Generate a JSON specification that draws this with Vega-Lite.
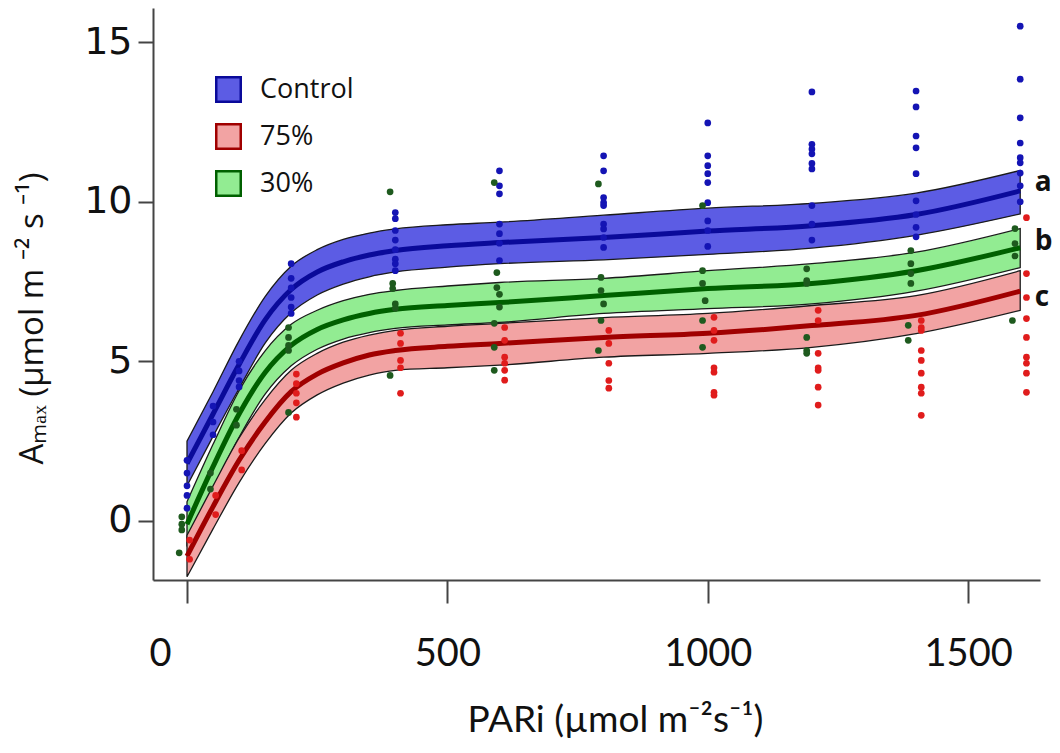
{
  "$schema": "https://vega.github.io/schema/vega-lite/v6.json",
  "width": 887,
  "height": 572,
  "autosize": {"type": "none"},
  "padding": {"left": 153, "top": 8, "right": 20, "bottom": 173},
  "background": "white",
  "config": {"view": {"stroke": null}},
  "datasets": {
    "curves": [
      {"g": "Control", "x": 0, "lo": 1.1, "mid": 1.8, "hi": 2.5},
      {"g": "Control", "x": 50, "lo": 2.65, "mid": 3.35, "hi": 4.05},
      {"g": "Control", "x": 100, "lo": 4.15, "mid": 4.9, "hi": 5.65},
      {"g": "Control", "x": 150, "lo": 5.57, "mid": 6.3, "hi": 7.03},
      {"g": "Control", "x": 200, "lo": 6.52, "mid": 7.25, "hi": 7.98},
      {"g": "Control", "x": 250, "lo": 7.08, "mid": 7.8, "hi": 8.5},
      {"g": "Control", "x": 300, "lo": 7.42, "mid": 8.12, "hi": 8.82},
      {"g": "Control", "x": 350, "lo": 7.65, "mid": 8.33, "hi": 9.02},
      {"g": "Control", "x": 400, "lo": 7.8, "mid": 8.47, "hi": 9.15},
      {"g": "Control", "x": 500, "lo": 7.95, "mid": 8.62, "hi": 9.28},
      {"g": "Control", "x": 600, "lo": 8.06, "mid": 8.72, "hi": 9.36},
      {"g": "Control", "x": 800, "lo": 8.18, "mid": 8.88, "hi": 9.58},
      {"g": "Control", "x": 1000, "lo": 8.35, "mid": 9.08, "hi": 9.8},
      {"g": "Control", "x": 1200, "lo": 8.55, "mid": 9.25, "hi": 9.95},
      {"g": "Control", "x": 1400, "lo": 8.95, "mid": 9.6, "hi": 10.27},
      {"g": "Control", "x": 1600, "lo": 9.62, "mid": 10.34, "hi": 10.98},
      {"g": "30%", "x": 0, "lo": -0.8, "mid": -0.1, "hi": 0.6},
      {"g": "30%", "x": 50, "lo": 1.0, "mid": 1.7, "hi": 2.4},
      {"g": "30%", "x": 100, "lo": 2.62, "mid": 3.35, "hi": 4.08},
      {"g": "30%", "x": 150, "lo": 3.97, "mid": 4.65, "hi": 5.33},
      {"g": "30%", "x": 200, "lo": 4.86, "mid": 5.5, "hi": 6.16},
      {"g": "30%", "x": 250, "lo": 5.38, "mid": 6.0, "hi": 6.6},
      {"g": "30%", "x": 300, "lo": 5.7, "mid": 6.3, "hi": 6.9},
      {"g": "30%", "x": 350, "lo": 5.9, "mid": 6.5, "hi": 7.1},
      {"g": "30%", "x": 400, "lo": 6.03, "mid": 6.63, "hi": 7.22},
      {"g": "30%", "x": 500, "lo": 6.14, "mid": 6.75, "hi": 7.36},
      {"g": "30%", "x": 600, "lo": 6.22, "mid": 6.84, "hi": 7.47},
      {"g": "30%", "x": 800, "lo": 6.5, "mid": 7.06, "hi": 7.6},
      {"g": "30%", "x": 1000, "lo": 6.65, "mid": 7.28, "hi": 7.84},
      {"g": "30%", "x": 1200, "lo": 6.8, "mid": 7.44, "hi": 8.06},
      {"g": "30%", "x": 1400, "lo": 7.2, "mid": 7.84, "hi": 8.42},
      {"g": "30%", "x": 1600, "lo": 7.94, "mid": 8.56, "hi": 9.16},
      {"g": "75%", "x": 0, "lo": -1.75, "mid": -1.1, "hi": -0.45},
      {"g": "75%", "x": 50, "lo": -0.25, "mid": 0.45, "hi": 1.1},
      {"g": "75%", "x": 100, "lo": 1.2, "mid": 1.9, "hi": 2.6},
      {"g": "75%", "x": 150, "lo": 2.42, "mid": 3.1, "hi": 3.8},
      {"g": "75%", "x": 200, "lo": 3.38, "mid": 4.05, "hi": 4.72},
      {"g": "75%", "x": 250, "lo": 3.95, "mid": 4.6, "hi": 5.25},
      {"g": "75%", "x": 300, "lo": 4.32, "mid": 4.95, "hi": 5.6},
      {"g": "75%", "x": 350, "lo": 4.57, "mid": 5.2, "hi": 5.82},
      {"g": "75%", "x": 400, "lo": 4.72, "mid": 5.34, "hi": 5.97},
      {"g": "75%", "x": 500, "lo": 4.8, "mid": 5.47, "hi": 6.1},
      {"g": "75%", "x": 600, "lo": 4.88, "mid": 5.56, "hi": 6.19},
      {"g": "75%", "x": 800, "lo": 5.13, "mid": 5.75, "hi": 6.37},
      {"g": "75%", "x": 1000, "lo": 5.25, "mid": 5.88, "hi": 6.5},
      {"g": "75%", "x": 1200, "lo": 5.44, "mid": 6.12, "hi": 6.75},
      {"g": "75%", "x": 1400, "lo": 5.87, "mid": 6.44, "hi": 7.06},
      {"g": "75%", "x": 1600, "lo": 6.6, "mid": 7.2, "hi": 7.84}
    ],
    "points": [
      {"g": "Control", "x": 0, "y": 1.9}, {"g": "Control", "x": 0, "y": 1.5}, {"g": "Control", "x": 0, "y": 1.1}, {"g": "Control", "x": 0, "y": 0.8}, {"g": "Control", "x": 0, "y": 0.4},
      {"g": "Control", "x": 50, "y": 3.6}, {"g": "Control", "x": 50, "y": 3.1}, {"g": "Control", "x": 50, "y": 2.7},
      {"g": "Control", "x": 100, "y": 5.0}, {"g": "Control", "x": 100, "y": 4.7}, {"g": "Control", "x": 100, "y": 4.4}, {"g": "Control", "x": 100, "y": 4.2},
      {"g": "Control", "x": 200, "y": 8.06}, {"g": "Control", "x": 200, "y": 7.6}, {"g": "Control", "x": 200, "y": 7.3}, {"g": "Control", "x": 200, "y": 7.0}, {"g": "Control", "x": 200, "y": 6.7}, {"g": "Control", "x": 200, "y": 6.5},
      {"g": "Control", "x": 400, "y": 9.66}, {"g": "Control", "x": 400, "y": 9.47}, {"g": "Control", "x": 400, "y": 9.1}, {"g": "Control", "x": 400, "y": 8.8}, {"g": "Control", "x": 400, "y": 8.5}, {"g": "Control", "x": 400, "y": 8.2}, {"g": "Control", "x": 400, "y": 8.06}, {"g": "Control", "x": 400, "y": 7.84},
      {"g": "Control", "x": 600, "y": 10.97}, {"g": "Control", "x": 600, "y": 10.5}, {"g": "Control", "x": 600, "y": 10.25}, {"g": "Control", "x": 600, "y": 9.3}, {"g": "Control", "x": 600, "y": 9.0}, {"g": "Control", "x": 600, "y": 8.7}, {"g": "Control", "x": 600, "y": 8.16},
      {"g": "Control", "x": 800, "y": 11.44}, {"g": "Control", "x": 800, "y": 10.97}, {"g": "Control", "x": 800, "y": 10.13}, {"g": "Control", "x": 800, "y": 9.97}, {"g": "Control", "x": 800, "y": 9.88}, {"g": "Control", "x": 800, "y": 9.3}, {"g": "Control", "x": 800, "y": 9.15}, {"g": "Control", "x": 800, "y": 8.88}, {"g": "Control", "x": 800, "y": 8.57},
      {"g": "Control", "x": 1000, "y": 12.47}, {"g": "Control", "x": 1000, "y": 11.44}, {"g": "Control", "x": 1000, "y": 11.13}, {"g": "Control", "x": 1000, "y": 10.88}, {"g": "Control", "x": 1000, "y": 10.6}, {"g": "Control", "x": 1000, "y": 9.97}, {"g": "Control", "x": 1000, "y": 9.4}, {"g": "Control", "x": 1000, "y": 9.1}, {"g": "Control", "x": 1000, "y": 8.6},
      {"g": "Control", "x": 1200, "y": 13.44}, {"g": "Control", "x": 1200, "y": 11.8}, {"g": "Control", "x": 1200, "y": 11.65}, {"g": "Control", "x": 1200, "y": 11.5}, {"g": "Control", "x": 1200, "y": 11.2}, {"g": "Control", "x": 1200, "y": 11.03}, {"g": "Control", "x": 1200, "y": 9.88}, {"g": "Control", "x": 1200, "y": 9.3}, {"g": "Control", "x": 1200, "y": 8.8},
      {"g": "Control", "x": 1400, "y": 13.47}, {"g": "Control", "x": 1400, "y": 12.97}, {"g": "Control", "x": 1400, "y": 12.06}, {"g": "Control", "x": 1400, "y": 11.69}, {"g": "Control", "x": 1400, "y": 10.88}, {"g": "Control", "x": 1400, "y": 10.03}, {"g": "Control", "x": 1400, "y": 9.6}, {"g": "Control", "x": 1400, "y": 9.2}, {"g": "Control", "x": 1400, "y": 8.9},
      {"g": "Control", "x": 1600, "y": 15.5}, {"g": "Control", "x": 1600, "y": 13.84}, {"g": "Control", "x": 1600, "y": 12.63}, {"g": "Control", "x": 1600, "y": 11.84}, {"g": "Control", "x": 1600, "y": 11.38}, {"g": "Control", "x": 1600, "y": 11.22}, {"g": "Control", "x": 1600, "y": 10.9}, {"g": "Control", "x": 1600, "y": 10.5}, {"g": "Control", "x": 1600, "y": 10.0},
      {"g": "30%", "x": -10, "y": 0.13}, {"g": "30%", "x": -10, "y": -0.1}, {"g": "30%", "x": -10, "y": -0.28}, {"g": "30%", "x": -15, "y": -1.0},
      {"g": "30%", "x": 45, "y": 1.5}, {"g": "30%", "x": 45, "y": 1.0},
      {"g": "30%", "x": 95, "y": 3.5}, {"g": "30%", "x": 95, "y": 3.0},
      {"g": "30%", "x": 195, "y": 6.06}, {"g": "30%", "x": 195, "y": 5.75}, {"g": "30%", "x": 195, "y": 5.5}, {"g": "30%", "x": 195, "y": 5.34}, {"g": "30%", "x": 195, "y": 3.4},
      {"g": "30%", "x": 390, "y": 10.31}, {"g": "30%", "x": 395, "y": 7.44}, {"g": "30%", "x": 395, "y": 7.28}, {"g": "30%", "x": 400, "y": 6.8}, {"g": "30%", "x": 400, "y": 6.66}, {"g": "30%", "x": 390, "y": 4.56},
      {"g": "30%", "x": 590, "y": 10.6}, {"g": "30%", "x": 595, "y": 7.78}, {"g": "30%", "x": 595, "y": 7.31}, {"g": "30%", "x": 600, "y": 7.1}, {"g": "30%", "x": 600, "y": 6.7}, {"g": "30%", "x": 590, "y": 6.19}, {"g": "30%", "x": 590, "y": 5.44}, {"g": "30%", "x": 590, "y": 4.72},
      {"g": "30%", "x": 790, "y": 10.56}, {"g": "30%", "x": 795, "y": 7.63}, {"g": "30%", "x": 795, "y": 7.22}, {"g": "30%", "x": 800, "y": 6.8}, {"g": "30%", "x": 795, "y": 6.28}, {"g": "30%", "x": 790, "y": 5.34},
      {"g": "30%", "x": 990, "y": 9.88}, {"g": "30%", "x": 990, "y": 7.84}, {"g": "30%", "x": 990, "y": 7.44}, {"g": "30%", "x": 995, "y": 6.9}, {"g": "30%", "x": 990, "y": 6.28}, {"g": "30%", "x": 990, "y": 5.44},
      {"g": "30%", "x": 1190, "y": 7.9}, {"g": "30%", "x": 1190, "y": 7.53}, {"g": "30%", "x": 1190, "y": 7.44}, {"g": "30%", "x": 1190, "y": 5.75}, {"g": "30%", "x": 1190, "y": 5.34}, {"g": "30%", "x": 1190, "y": 5.25},
      {"g": "30%", "x": 1390, "y": 8.47}, {"g": "30%", "x": 1390, "y": 8.06}, {"g": "30%", "x": 1390, "y": 7.75}, {"g": "30%", "x": 1390, "y": 7.44}, {"g": "30%", "x": 1385, "y": 6.13}, {"g": "30%", "x": 1385, "y": 5.66},
      {"g": "30%", "x": 1590, "y": 9.16}, {"g": "30%", "x": 1590, "y": 8.69}, {"g": "30%", "x": 1590, "y": 8.3}, {"g": "30%", "x": 1585, "y": 6.28},
      {"g": "75%", "x": 5, "y": -0.6}, {"g": "75%", "x": 5, "y": -1.2},
      {"g": "75%", "x": 55, "y": 0.8}, {"g": "75%", "x": 55, "y": 0.2},
      {"g": "75%", "x": 105, "y": 2.2}, {"g": "75%", "x": 105, "y": 1.6},
      {"g": "75%", "x": 210, "y": 4.6}, {"g": "75%", "x": 210, "y": 4.3}, {"g": "75%", "x": 210, "y": 4.0}, {"g": "75%", "x": 210, "y": 3.7}, {"g": "75%", "x": 210, "y": 3.25},
      {"g": "75%", "x": 410, "y": 5.88}, {"g": "75%", "x": 410, "y": 5.56}, {"g": "75%", "x": 410, "y": 5.03}, {"g": "75%", "x": 410, "y": 4.8}, {"g": "75%", "x": 410, "y": 4.0},
      {"g": "75%", "x": 610, "y": 6.06}, {"g": "75%", "x": 610, "y": 5.66}, {"g": "75%", "x": 610, "y": 5.13}, {"g": "75%", "x": 610, "y": 4.94}, {"g": "75%", "x": 610, "y": 4.72}, {"g": "75%", "x": 610, "y": 4.41},
      {"g": "75%", "x": 810, "y": 5.97}, {"g": "75%", "x": 810, "y": 5.56}, {"g": "75%", "x": 810, "y": 4.94}, {"g": "75%", "x": 810, "y": 4.4}, {"g": "75%", "x": 810, "y": 4.16},
      {"g": "75%", "x": 1012, "y": 6.38}, {"g": "75%", "x": 1012, "y": 5.97}, {"g": "75%", "x": 1012, "y": 5.66}, {"g": "75%", "x": 1012, "y": 4.8}, {"g": "75%", "x": 1012, "y": 4.66}, {"g": "75%", "x": 1012, "y": 4.03}, {"g": "75%", "x": 1012, "y": 3.94},
      {"g": "75%", "x": 1212, "y": 6.6}, {"g": "75%", "x": 1212, "y": 6.28}, {"g": "75%", "x": 1212, "y": 5.25}, {"g": "75%", "x": 1212, "y": 4.8}, {"g": "75%", "x": 1212, "y": 4.72}, {"g": "75%", "x": 1212, "y": 4.19}, {"g": "75%", "x": 1212, "y": 3.63},
      {"g": "75%", "x": 1410, "y": 6.28}, {"g": "75%", "x": 1410, "y": 6.06}, {"g": "75%", "x": 1410, "y": 5.97}, {"g": "75%", "x": 1410, "y": 5.34}, {"g": "75%", "x": 1410, "y": 5.03}, {"g": "75%", "x": 1410, "y": 4.63}, {"g": "75%", "x": 1410, "y": 4.19}, {"g": "75%", "x": 1410, "y": 4.0}, {"g": "75%", "x": 1410, "y": 3.31},
      {"g": "75%", "x": 1612, "y": 9.5}, {"g": "75%", "x": 1612, "y": 7.75}, {"g": "75%", "x": 1612, "y": 7.0}, {"g": "75%", "x": 1612, "y": 6.34}, {"g": "75%", "x": 1612, "y": 5.75}, {"g": "75%", "x": 1612, "y": 5.13}, {"g": "75%", "x": 1612, "y": 4.94}, {"g": "75%", "x": 1612, "y": 4.63}, {"g": "75%", "x": 1612, "y": 4.03}
    ],
    "letters": [
      {"label": "a", "x": 1628, "y": 10.6},
      {"label": "b", "x": 1628, "y": 8.75},
      {"label": "c", "x": 1628, "y": 7.0}
    ]
  },
  "encoding": {
    "x": {
      "type": "quantitative",
      "scale": {"domain": [-65.3, 1638], "nice": false, "zero": false},
      "axis": {
        "title": "PARi (µmol m⁻²s⁻¹)",
        "values": [0, 500, 1000, 1500],
        "format": "d",
        "grid": false,
        "domainColor": "#444", "domainWidth": 2,
        "tickColor": "#444", "tickWidth": 2, "tickSize": 23,
        "labelFont": "Lato", "labelFontSize": 38, "labelColor": "#111",
        "labelPadding": 32, "labelFlush": false,
        "labelOffset": {"condition": {"test": "datum.value === 0", "value": -27}, "value": 0},
        "titleFont": "Lato", "titleFontSize": 37, "titleFontWeight": "normal", "titleColor": "#111",
        "titleX": 462, "titleY": 140, "titleBaseline": "middle"
      }
    },
    "y": {
      "type": "quantitative",
      "scale": {"domain": [-1.85, 16.07], "nice": false, "zero": false},
      "axis": {
        "title": "Aₘₐₓ (µmol m ⁻² s ⁻¹)",
        "values": [0, 5, 10, 15],
        "grid": false,
        "domainColor": "#444", "domainWidth": 2,
        "tickColor": "#444", "tickWidth": 2, "tickSize": 15,
        "labelFont": "DejaVu Sans", "labelFontSize": 38, "labelColor": "#111",
        "labelPadding": 6, "labelFlush": false,
        "titleFont": "Open Sans", "titleFontSize": 33, "titleFontWeight": "normal", "titleColor": "#111",
        "titleY": 310, "titlePadding": 34
      }
    }
  },
  "layer": [
    {
      "data": {"name": "curves"},
      "mark": {"type": "area", "interpolate": "monotone", "stroke": "#1a1a1a", "strokeWidth": 1.3, "fillOpacity": 1},
      "encoding": {
        "x": {"field": "x", "type": "quantitative"},
        "y": {"field": "lo", "type": "quantitative"},
        "y2": {"field": "hi"},
        "fill": {
          "field": "g", "type": "nominal",
          "scale": {"domain": ["Control", "75%", "30%"], "range": ["#5c5ce4", "#f2a3a3", "#92ec92"]},
          "legend": {
            "title": null, "orient": "none", "legendX": 62, "legendY": 68,
            "symbolType": "square", "symbolSize": 600, "symbolStrokeWidth": 2.5, "symbolOpacity": 1,
            "labelFont": "Open Sans", "labelFontSize": 27, "labelColor": "#111", "labelOffset": 18,
            "rowPadding": 12
          }
        }
      }
    },
    {
      "data": {"name": "curves"},
      "mark": {"type": "line", "interpolate": "monotone", "strokeWidth": 5},
      "encoding": {
        "x": {"field": "x", "type": "quantitative"},
        "y": {"field": "mid", "type": "quantitative"},
        "stroke": {
          "field": "g", "type": "nominal",
          "scale": {"domain": ["Control", "75%", "30%"], "range": ["#0a0a9a", "#a00000", "#006000"]},
          "legend": {
            "title": null, "orient": "none", "legendX": 62, "legendY": 68,
            "symbolType": "square", "symbolSize": 600, "symbolStrokeWidth": 2.5, "symbolOpacity": 1,
            "labelFont": "Open Sans", "labelFontSize": 27, "labelColor": "#111", "labelOffset": 18,
            "rowPadding": 12
          }
        }
      }
    },
    {
      "data": {"name": "points"},
      "mark": {"type": "point", "filled": true, "size": 45, "opacity": 1},
      "encoding": {
        "x": {"field": "x", "type": "quantitative"},
        "y": {"field": "y", "type": "quantitative"},
        "color": {
          "field": "g", "type": "nominal",
          "scale": {"domain": ["Control", "75%", "30%"], "range": ["#1414b4", "#e01c1c", "#1e5a1e"]},
          "legend": null
        }
      }
    },
    {
      "data": {"name": "letters"},
      "mark": {"type": "text", "align": "left", "baseline": "middle", "font": "Open Sans", "fontSize": 28, "fontWeight": "bold", "color": "#111", "clip": false},
      "encoding": {
        "x": {"field": "x", "type": "quantitative"},
        "y": {"field": "y", "type": "quantitative"},
        "text": {"field": "label"}
      }
    }
  ]
}
